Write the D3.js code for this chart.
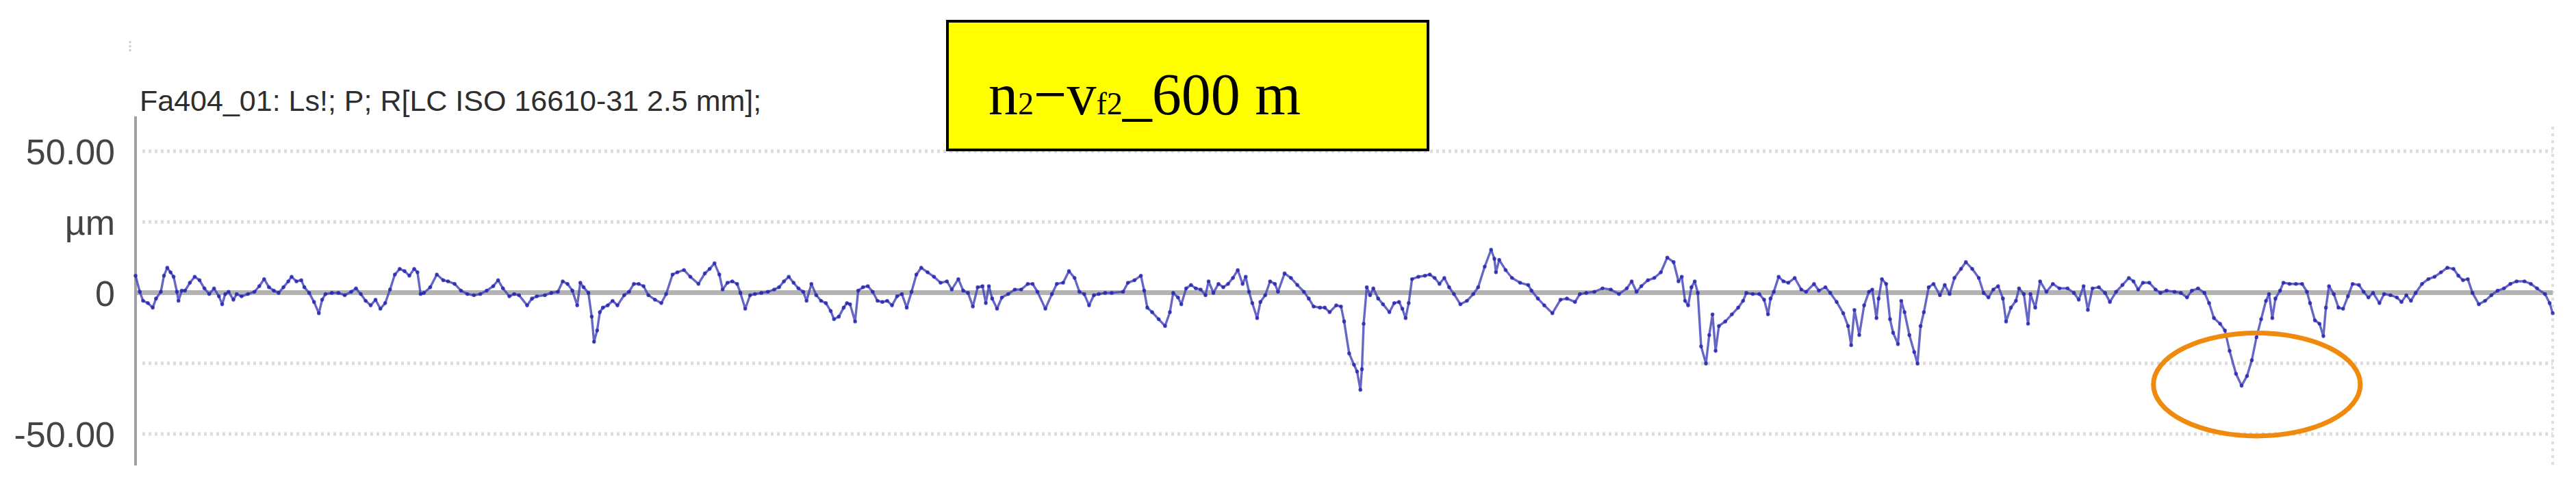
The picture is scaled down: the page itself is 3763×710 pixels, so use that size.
<!DOCTYPE html>
<html>
<head>
<meta charset="utf-8">
<script src="https://cdn.jsdelivr.net/npm/d3@7"></script>
<style>
  html, body { margin: 0; padding: 0; background: #ffffff; }
  svg { display: block; }
</style>
</head>
<body>
<div id="chart"></div>
<script>
// ---------- DATA ----------
const titleText = "Fa404_01: Ls!; P; R[LC ISO 16610-31 2.5 mm];";
const boxLabelParts = [
  { t: "n", small: false }, { t: "2", small: true }, { t: "\u2212", small: false },
  { t: "v", small: false }, { t: "f2", small: true }, { t: "_600 m", small: false }
];
const yTickValues = [50, 25, 0, -25, -50];
const yTickLabels = ["50.00", "\u00b5m", "0", "", "-50.00"];
const xDomainMm = [0, 12.5];
const yDomainUm = [-50, 50];
// highlighted region (mm, µm): centre and half-extents
const highlightCenter = [10.97, -32.5];
const highlightRadius = [0.535, 18.2];

// profile: [position mm, height µm]
const profileSeg1 = [[0.000,6.0],[0.022,0.3],[0.039,-2.9],[0.064,-3.7],[0.089,-5.3],[0.106,-2.1],[0.131,0.3],[0.147,6.0],[0.164,8.8],[0.181,7.2],[0.197,5.6],[0.214,0.3],[0.222,-2.9],[0.239,0.7],[0.256,0.7],[0.281,3.5],[0.306,5.6],[0.331,4.4],[0.356,1.5],[0.381,-0.5],[0.406,1.5],[0.431,-1.3],[0.448,-4.1],[0.464,-0.5],[0.481,0.3],[0.506,-2.5],[0.523,-0.5],[0.548,-1.3],[0.581,-0.5],[0.615,0.3],[0.640,2.3],[0.665,4.8],[0.690,1.9],[0.715,0.7],[0.740,-0.1],[0.765,1.9],[0.790,4.0],[0.807,5.6],[0.832,4.0],[0.857,4.4],[0.873,1.9],[0.898,-0.1],[0.923,-3.3],[0.948,-7.3],[0.965,-2.5],[0.982,-0.5],[1.015,-0.1],[1.049,-0.1],[1.082,-0.9],[1.115,0.3],[1.140,1.5],[1.165,-0.5],[1.190,-2.9],[1.216,-4.5],[1.241,-2.5],[1.266,-5.7],[1.291,-3.7],[1.316,1.1],[1.341,6.4],[1.366,8.4],[1.391,7.6],[1.416,6.0],[1.441,8.4],[1.458,7.2],[1.474,-0.5],[1.491,-0.1],[1.524,1.9],[1.558,6.4],[1.591,4.4],[1.616,4.0],[1.650,3.1],[1.683,0.7],[1.716,-0.5],[1.750,-0.9],[1.783,-0.5],[1.816,0.7],[1.850,2.3],[1.875,4.4],[1.900,1.5],[1.933,-1.3],[1.958,-0.5],[1.983,-0.9],[2.025,-4.5],[2.050,-2.1],[2.075,-1.3],[2.117,-0.9],[2.150,-0.1],[2.184,0.3],[2.209,4.0],[2.234,3.1],[2.259,0.7],[2.284,-4.5],[2.300,3.5],[2.317,1.9],[2.342,-0.1],[2.359,-8.5],[2.371,-17.4],[2.387,-13.4],[2.401,-6.9],[2.417,-5.3],[2.442,-4.5],[2.467,-2.9],[2.492,-4.5]];
const profileSeg2 = [[2.527,-0.9],[2.552,0.3],[2.577,3.1],[2.602,3.1],[2.627,2.3],[2.652,-0.9],[2.686,-2.5],[2.719,-3.7],[2.744,-0.5],[2.777,6.4],[2.802,7.2],[2.836,8.0],[2.869,5.6],[2.911,3.1],[2.944,6.8],[2.969,8.4],[2.994,10.4],[3.019,6.4],[3.036,1.1],[3.061,3.5],[3.086,4.0],[3.111,3.1],[3.128,-0.1],[3.153,-5.7],[3.178,-0.9],[3.203,-0.5],[3.236,-0.1],[3.270,0.3],[3.303,1.1],[3.328,1.9],[3.353,4.0],[3.378,5.6],[3.403,3.5],[3.428,1.5],[3.453,0.3],[3.470,-2.9],[3.495,3.1],[3.520,-0.9],[3.545,-2.9],[3.570,-3.7],[3.595,-6.5],[3.612,-9.4],[3.637,-8.5],[3.662,-5.3],[3.679,-3.7],[3.695,-4.1],[3.721,-10.2],[3.737,0.7],[3.762,1.9],[3.787,2.3],[3.812,0.3],[3.837,-2.9],[3.862,-3.3],[3.887,-2.9],[3.912,-4.5],[3.938,-1.3],[3.963,-0.5],[3.988,-5.3],[4.013,0.3],[4.038,6.4],[4.063,8.8],[4.096,7.2],[4.129,5.6],[4.163,3.5],[4.196,4.0],[4.221,1.1],[4.255,4.8],[4.280,0.7],[4.305,-0.1],[4.330,-4.9],[4.355,1.9],[4.380,2.3],[4.397,-3.7],[4.413,2.3],[4.430,-2.1],[4.455,-5.7],[4.480,-1.7],[4.513,-0.5],[4.547,1.1],[4.580,1.1],[4.614,3.1],[4.639,3.1],[4.664,0.3],[4.705,-5.7],[4.739,-0.5],[4.764,3.1],[4.797,3.5],[4.827,7.6],[4.856,5.2],[4.881,0.3],[4.906,-0.5],[4.931,-4.5],[4.956,-0.9],[4.981,-0.5],[5.014,-0.1],[5.048,-0.1]];
const profileSeg3 = [[5.107,0.3],[5.132,3.5],[5.166,4.4],[5.199,6.0],[5.216,0.7],[5.232,-5.3],[5.257,-6.9],[5.291,-9.4],[5.324,-11.8],[5.349,-6.9],[5.366,-0.1],[5.391,-1.7],[5.408,-4.1],[5.433,1.5],[5.458,2.7],[5.483,1.5],[5.508,1.1],[5.533,-0.9],[5.549,4.0],[5.574,-0.1],[5.600,3.1],[5.625,1.9],[5.650,3.1],[5.675,5.2],[5.700,8.0],[5.725,3.1],[5.741,5.6],[5.758,0.3],[5.775,-3.7],[5.800,-9.0],[5.817,-3.3],[5.842,-0.9],[5.867,4.0],[5.892,3.1],[5.908,0.3],[5.942,6.8],[5.975,5.2],[6.008,2.7],[6.042,0.3],[6.067,-2.1],[6.092,-4.9],[6.125,-5.3],[6.150,-5.3],[6.175,-6.9],[6.209,-4.5],[6.234,-4.9],[6.250,-10.2],[6.276,-21.5],[6.301,-25.5],[6.317,-27.9],[6.334,-34.4],[6.342,-27.1],[6.351,-11.0],[6.367,1.9],[6.384,-0.9],[6.401,1.5],[6.426,-2.1],[6.451,-4.1],[6.484,-6.9],[6.509,-3.7],[6.534,-3.3],[6.551,-5.7],[6.568,-9.0],[6.584,-3.7],[6.601,4.8],[6.634,5.6],[6.668,6.0],[6.693,6.4],[6.718,5.2],[6.743,3.1],[6.768,5.2],[6.793,1.9],[6.818,-0.5],[6.851,-4.1],[6.885,-2.9],[6.918,-0.5],[6.943,1.9],[6.977,9.2],[7.010,15.2],[7.027,12.0],[7.035,7.2],[7.052,11.6],[7.085,8.0],[7.118,5.2],[7.160,3.5],[7.202,2.7],[7.219,0.7],[7.252,-2.1],[7.285,-4.5],[7.327,-7.3],[7.369,-2.5],[7.402,-2.1],[7.444,-3.3],[7.469,-0.5],[7.502,-0.1],[7.544,0.3],[7.586,1.5]];
const profileSeg4 = [[7.629,1.1],[7.671,-0.5],[7.712,1.5],[7.737,4.0],[7.762,0.3],[7.787,2.3],[7.821,4.4],[7.854,5.2],[7.888,7.2],[7.921,12.4],[7.954,10.8],[7.979,4.0],[7.996,5.6],[8.013,-2.9],[8.029,-4.5],[8.046,1.9],[8.063,4.0],[8.079,-0.1],[8.096,-19.0],[8.121,-25.1],[8.138,-15.0],[8.155,-7.7],[8.171,-20.6],[8.188,-11.8],[8.221,-10.2],[8.255,-7.7],[8.288,-5.3],[8.313,-2.9],[8.330,-0.1],[8.363,-0.5],[8.397,-0.5],[8.422,-2.5],[8.442,-7.7],[8.455,-2.1],[8.472,0.3],[8.497,5.6],[8.522,4.0],[8.547,3.5],[8.580,5.2],[8.614,1.1],[8.639,0.3],[8.680,3.1],[8.705,0.7],[8.739,1.9],[8.764,-0.1],[8.797,-3.3],[8.831,-7.3],[8.856,-11.8],[8.872,-18.6],[8.889,-6.1],[8.914,-15.0],[8.939,-4.5],[8.964,0.3],[8.981,1.1],[9.003,-9.0],[9.014,-2.1],[9.031,4.8],[9.053,3.1],[9.073,-9.4],[9.089,-14.2],[9.114,-18.2],[9.131,-2.9],[9.148,-6.9],[9.173,-15.0],[9.198,-21.0],[9.215,-25.1],[9.231,-11.8],[9.248,-6.9],[9.273,1.9],[9.298,3.1],[9.331,-0.9],[9.356,2.7],[9.381,-0.5],[9.406,5.2],[9.440,8.4],[9.465,10.8],[9.498,8.4],[9.532,5.2],[9.557,-0.1],[9.582,-1.7],[9.607,1.1],[9.632,2.3],[9.657,-2.1],[9.673,-10.2],[9.698,-5.3],[9.724,-2.9],[9.740,1.5],[9.765,-0.5],[9.787,-11.0],[9.799,-0.5],[9.824,-5.3],[9.849,4.0],[9.882,0.3],[9.915,3.1],[9.949,1.5],[9.991,1.5],[10.024,-0.1],[10.049,-2.5],[10.074,2.3]];
const profileSeg5 = [[10.096,-6.1],[10.120,1.5],[10.153,1.9],[10.185,-0.1],[10.210,-3.3],[10.242,0.3],[10.275,2.7],[10.308,5.2],[10.332,4.0],[10.356,1.1],[10.381,3.5],[10.414,3.5],[10.446,1.1],[10.471,-0.1],[10.503,0.7],[10.544,0.3],[10.577,-0.1],[10.609,-1.7],[10.634,0.7],[10.666,1.5],[10.699,-0.1],[10.723,-3.7],[10.748,-9.0],[10.780,-11.0],[10.805,-13.4],[10.829,-20.6],[10.862,-28.7],[10.891,-32.9],[10.919,-29.5],[10.944,-23.9],[10.968,-15.8],[10.992,-9.4],[11.017,-2.9],[11.033,-0.5],[11.050,-9.0],[11.066,-2.1],[11.090,0.7],[11.107,3.5],[11.139,3.1],[11.172,3.1],[11.204,3.1],[11.229,0.3],[11.245,-3.7],[11.270,-9.8],[11.294,-11.0],[11.314,-15.4],[11.327,-5.3],[11.343,2.3],[11.368,-0.5],[11.392,-5.3],[11.416,-5.7],[11.441,-1.3],[11.465,3.1],[11.498,2.7],[11.522,0.3],[11.547,-1.7],[11.571,-0.1],[11.604,-3.7],[11.628,-0.5],[11.661,-0.9],[11.694,-1.7],[11.718,-3.3],[11.743,-0.9],[11.767,-2.9],[11.791,-0.1],[11.824,3.1],[11.857,4.8],[11.889,5.6],[11.922,7.2],[11.955,8.8],[11.987,8.4],[12.012,6.0],[12.036,4.4],[12.061,4.8],[12.085,-0.1],[12.118,-4.1],[12.150,-2.9],[12.183,-0.9],[12.215,0.7],[12.248,1.5],[12.281,3.1],[12.313,4.0],[12.354,4.0],[12.387,3.1],[12.419,1.5],[12.460,-0.5],[12.484,-3.7],[12.500,-7.3]];

// ---------- LAYOUT ----------
const W = 3763, H = 710;
const plotLeft = 198, plotRight = 3729, plotTop = 170, plotBottom = 680;

const svg = d3.select("#chart").append("svg")
  .attr("width", W).attr("height", H)
  .attr("viewBox", `0 0 ${W} ${H}`)
  .style("background", "#ffffff");

const x = d3.scaleLinear().domain(xDomainMm).range([plotLeft, plotRight]);
const y = d3.scaleLinear().domain(yDomainUm).range([634, 221]);

// grid lines (dotted)
svg.append("g").selectAll("line")
  .data(yTickValues.filter(v => v !== 0))
  .join("line")
  .attr("x1", plotLeft + 10).attr("x2", plotRight)
  .attr("y1", d => y(d)).attr("y2", d => y(d))
  .attr("stroke", "#dcdcdc").attr("stroke-width", 5)
  .attr("stroke-dasharray", "4,5");

// right dotted border
svg.append("line")
  .attr("x1", plotRight).attr("x2", plotRight)
  .attr("y1", 185).attr("y2", plotBottom)
  .attr("stroke", "#dedede").attr("stroke-width", 4)
  .attr("stroke-dasharray", "4,6");

// zero line
svg.append("line")
  .attr("x1", plotLeft).attr("x2", plotRight)
  .attr("y1", y(0)).attr("y2", y(0))
  .attr("stroke", "#b3b3b3").attr("stroke-width", 7);

// y axis
const yAxis = d3.axisLeft(y)
  .tickValues(yTickValues)
  .tickFormat((d, i) => yTickLabels[i])
  .tickSize(0).tickPadding(30);
const gy = svg.append("g").attr("transform", `translate(${plotLeft},0)`).call(yAxis);
gy.select(".domain").remove();
gy.selectAll("text")
  .attr("font-family", "'Liberation Sans', Arial, sans-serif")
  .attr("font-size", 52)
  .attr("fill", "#444444")
  .attr("dy", "0.36em");

// axis line
svg.append("line")
  .attr("x1", plotLeft).attr("x2", plotLeft)
  .attr("y1", plotTop).attr("y2", plotBottom)
  .attr("stroke", "#a0a0a0").attr("stroke-width", 4);
// small mark above the title
svg.append("line")
  .attr("x1", plotLeft - 8).attr("x2", plotLeft - 8)
  .attr("y1", 60).attr("y2", 75)
  .attr("stroke", "#cfcfcf").attr("stroke-width", 3)
  .attr("stroke-dasharray", "3,3");

// title
svg.append("text")
  .attr("x", 204).attr("y", 162)
  .attr("font-family", "'Liberation Sans', Arial, sans-serif")
  .attr("font-size", 43)
  .attr("fill", "#2e2e2e")
  .text(titleText);

// profile
const profile = [].concat(profileSeg1, profileSeg2, profileSeg3, profileSeg4, profileSeg5);
const line = d3.line().x(d => x(d[0])).y(d => y(d[1]));
svg.append("path")
  .datum(profile)
  .attr("d", line)
  .attr("fill", "none")
  .attr("stroke", "#4040b8")
  .attr("stroke-opacity", 0.8)
  .attr("stroke-width", 3.4)
  .attr("stroke-linejoin", "round");
svg.append("g").selectAll("circle")
  .data(profile)
  .join("circle")
  .attr("cx", d => x(d[0])).attr("cy", d => y(d[1]))
  .attr("r", 2.8)
  .attr("fill", "#1f1fae")
  .attr("fill-opacity", 0.75);

// yellow label box
const box = svg.append("g");
box.append("rect")
  .attr("x", 1384).attr("y", 31).attr("width", 702).attr("height", 188)
  .attr("fill", "#ffff00").attr("stroke", "#000000").attr("stroke-width", 4);
const lbl = box.append("text")
  .attr("x", 1444).attr("y", 167)
  .attr("font-family", "'Liberation Serif', 'Times New Roman', serif")
  .attr("fill", "#000000");
boxLabelParts.forEach(p => {
  lbl.append("tspan")
    .attr("font-size", p.small ? 46 : 86)
    .text(p.t);
});

// highlight ellipse
svg.append("ellipse")
  .attr("cx", x(highlightCenter[0]))
  .attr("cy", y(highlightCenter[1]))
  .attr("rx", x(highlightCenter[0] + highlightRadius[0]) - x(highlightCenter[0]))
  .attr("ry", y(highlightCenter[1] - highlightRadius[1]) - y(highlightCenter[1]))
  .attr("fill", "none")
  .attr("stroke", "#f08a0c")
  .attr("stroke-width", 7);
</script>
</body>
</html>
